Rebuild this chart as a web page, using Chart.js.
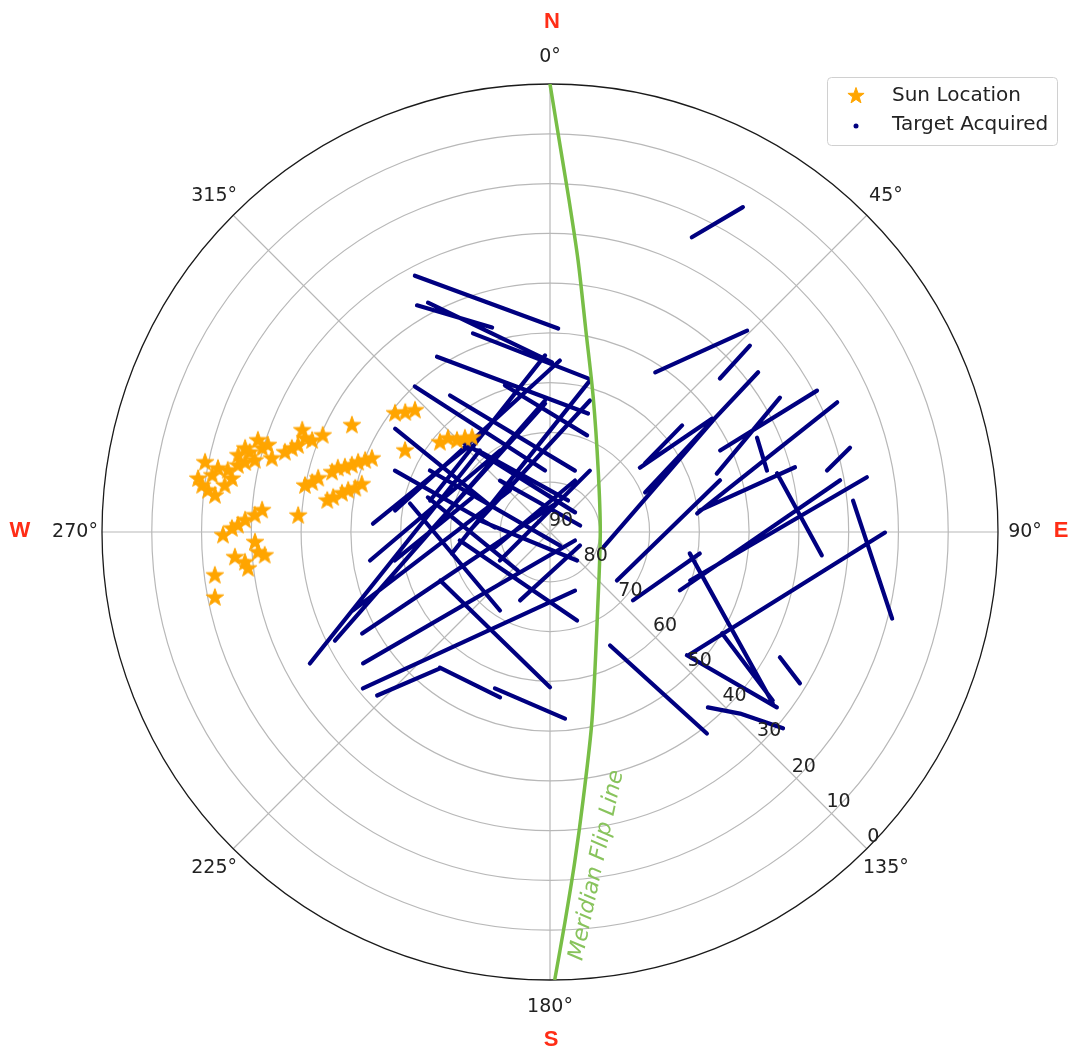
<!DOCTYPE html>
<html>
<head>
<meta charset="utf-8">
<script src="https://cdn.jsdelivr.net/npm/chart.js@4.4.1/dist/chart.umd.min.js"></script>
<style>
  html, body { margin: 0; padding: 0; background: #fff; }
</style>
</head>
<body>
<canvas id="c" width="1073" height="1051"></canvas>
<script>
// azimuth ticks (deg, clockwise from north) and altitude ticks (deg)
const azTicks = [0, 45, 90, 135, 180, 225, 270, 315];
const altTicks = [90, 80, 70, 60, 50, 40, 30, 20, 10, 0];
const compass = ['N', 'E', 'S', 'W'];

// sun positions
const sunAz = [278.6, 281.4, 279.5, 280.8, 278.1, 280.8, 282.0, 283.8, 282.8, 284.8,
  283.6, 286.2, 287.1, 284.8, 276.9, 276.2, 279.5, 287.4, 285.3, 277.6,
  286.7, 287.9, 288.9, 292.3, 290.9, 291.0, 293.0, 298.3,
  280.7, 281.7, 283.0, 285.3, 286.7, 287.5, 288.6, 289.9, 291.1, 292.4,
  278.0, 279.0, 280.5, 281.6, 282.6, 284.2, 273.7,
  269.4, 270.6, 271.2, 272.2, 273.2, 274.3,
  265.4, 264.3, 263.1, 268.0, 266.0, 265.3, 262.6, 258.9,
  307.4, 309.5, 312.0, 299.3, 309.1, 312.5, 314.5, 317.7, 320.5];
const sunAlt = [18.5, 19.3, 21.2, 22.1, 24.0, 24.1, 25.9, 25.5, 27.2, 27.6,
  29.0, 29.8, 30.7, 32.2, 20.8, 22.3, 25.2, 28.5, 26.5, 19.5,
  34.4, 35.5, 36.5, 36.2, 37.3, 38.8, 40.4, 44.8,
  39.9, 41.2, 42.2, 44.6, 45.5, 46.8, 48.0, 49.0, 50.2, 51.3,
  44.8, 45.9, 47.5, 48.6, 49.9, 51.0, 39.3,
  24.3, 26.1, 27.3, 28.7, 30.6, 32.0,
  26.5, 28.4, 28.9, 30.7, 31.2, 32.5, 22.1, 21.4,
  50.8, 52.3, 53.5, 56.6, 61.5, 62.2, 63.8, 64.6, 65.4];

// acquired target tracks, each a list of [az, alt]
const targetTracks = [
  [[332.2, 31.8], [2.3, 49.1]],
  [[329.6, 37.2], [344.2, 47.3]],
  [[332.0, 37.8], [0.7, 55.9]],
  [[338.8, 47.2], [13.9, 58.2]],
  [[327.2, 48.1], [17.8, 65.0]],
  [[317.1, 50.1], [355.4, 77.6]],
  [[323.8, 56.0], [22.1, 76.7]],
  [[303.7, 52.6], [293.8, 76.8]],
  [[342.9, 59.2], [21.0, 69.2]],
  [[315.5, 64.2], [52.0, 83.6]],
  [[297.1, 62.9], [143.5, 86.6]],
  [[315.8, 75.6], [77.8, 83.8]],
  [[279.3, 75.8], [136.5, 82.1]],
  [[264.6, 71.8], [163.0, 71.4]],
  [[281.5, 61.3], [212.5, 71.3]],
  [[246.2, 65.9], [180.0, 58.8]],
  [[219.1, 54.9], [196.8, 55.3]],
  [[199.4, 56.7], [175.4, 52.4]],
  [[291.6, 56.5], [274.7, 78.9]],
  [[285.8, 64.5], [219.7, 79.9]],
  [[318.5, 68.1], [29.7, 82.7]],
  [[241.3, 35.0], [319.3, 68.4]],
  [[243.2, 41.6], [357.8, 63.6]],
  [[248.3, 47.4], [316.1, 78.4]],
  [[241.6, 47.1], [17.6, 83.4]],
  [[234.9, 44.1], [108.8, 84.7]],
  [[230.1, 41.0], [156.9, 77.2]],
  [[226.6, 42.2], [218.9, 54.8]],
  [[272.7, 54.4], [317.2, 66.3]],
  [[261.0, 53.4], [328.5, 70.8]],
  [[277.9, 58.6], [3.3, 55.5]],
  [[284.7, 65.1], [358.4, 54.5]],
  [[271.1, 73.9], [16.9, 62.4]],
  [[240.3, 78.4], [33.0, 75.3]],
  [[203.6, 75.0], [114.2, 83.4]],
  [[266.2, 64.2], [357.8, 64.2]],
  [[257.6, 69.8], [14.8, 58.5]],
  [[254.3, 78.5], [25.9, 78.5]],
  [[259.6, 58.3], [293.9, 72.9]],
  [[25.7, 24.3], [30.7, 14.1]],
  [[33.4, 51.6], [44.4, 33.4]],
  [[47.9, 44.0], [47.0, 35.1]],
  [[106.3, 78.9], [55.6, 50.3]],
  [[67.4, 69.3], [52.5, 37.3]],
  [[54.2, 66.5], [51.1, 55.9]],
  [[70.7, 54.5], [59.7, 36.5]],
  [[64.4, 52.1], [62.1, 29.3]],
  [[82.8, 60.2], [65.7, 26.7]],
  [[109.1, 60.2], [80.2, 25.4]],
  [[131.8, 52.8], [90.1, 22.7]],
  [[84.1, 28.8], [104.2, 19.1]],
  [[75.5, 42.9], [94.9, 35.2]],
  [[98.7, 61.6], [127.6, 33.5]],
  [[138.0, 42.6], [133.7, 37.2], [130.1, 28.8]],
  [[132.0, 53.0], [127.7, 32.4]],
  [[152.1, 64.2], [142.1, 38.7]],
  [[120.5, 49.9], [127.1, 33.9]],
  [[125.9, 73.4], [73.1, 54.3]],
  [[129.5, 68.4], [98.2, 59.6]],
  [[114.2, 61.4], [79.9, 30.8]],
  [[65.5, 44.3], [74.2, 44.7]],
  [[118.6, 37.4], [121.2, 31.3]],
  [[81.8, 59.6], [75.2, 39.1]],
  [[74.3, 27.4], [77.5, 33.0]],
  [[54.4, 67.8], [55.0, 50.3]]
];

// meridian flip line
const flipAz = [0, 1.66, 3.28, 5.89, 10.1, 17.8, 38.1, 90, 146.2, 167.4, 173.0, 175.7, 177.8, 179.4];
const flipAlt = [0, 13.5, 23.2, 35.1, 48.9, 61.6, 74.3, 79.9, 72.7, 51.3, 35.6, 23.6, 11.6, 0];

const NAVY = '#000080';
const ORANGE = '#ffa500';
const GREEN = '#78be46';
const RED = '#ff2d16';

function toXY(az, alt) {
  const z = 90 - alt, t = az * Math.PI / 180;
  return { x: z * Math.sin(t), y: z * Math.cos(t) };
}

function makeStar(size, rOut) {
  const c = document.createElement('canvas');
  c.width = c.height = size;
  const g = c.getContext('2d');
  g.beginPath();
  for (let i = 0; i < 10; i++) {
    const r = i % 2 === 0 ? rOut : rOut * 0.4;
    const a = -Math.PI / 2 + i * Math.PI / 5;
    g.lineTo(size / 2 + r * Math.cos(a), size / 2 + r * Math.sin(a));
  }
  g.closePath();
  g.fillStyle = ORANGE;
  g.fill();
  g.strokeStyle = ORANGE;
  g.lineWidth = 1;
  g.stroke();
  return c;
}
const starImg = makeStar(22, 9.2);
const starLegend = makeStar(20, 8.5);

const sunData = sunAz.map((a, i) => toXY(a, sunAlt[i]));
const trackData = [];
targetTracks.forEach(tr => {
  tr.forEach(p => trackData.push(toXY(p[0], p[1])));
  trackData.push({ x: NaN, y: NaN });
});
const flipData = flipAz.map((a, i) => toXY(a, flipAlt[i]));

const polarFrame = {
  id: 'polarFrame',
  beforeDatasetsDraw(chart) {
    const ctx = chart.ctx, xs = chart.scales.x, ys = chart.scales.y;
    const cx = xs.getPixelForValue(0), cy = ys.getPixelForValue(0);
    const k = (xs.getPixelForValue(90) - cx) / 90;
    ctx.save();
    ctx.strokeStyle = '#b8b8b8';
    ctx.lineWidth = 1.2;
    altTicks.forEach(a => {
      if (a === 90 || a === 0) return;
      ctx.beginPath();
      ctx.arc(cx, cy, (90 - a) * k, 0, Math.PI * 2);
      ctx.stroke();
    });
    azTicks.forEach(a => {
      const t = a * Math.PI / 180;
      ctx.beginPath();
      ctx.moveTo(cx, cy);
      ctx.lineTo(cx + 90 * k * Math.sin(t), cy - 90 * k * Math.cos(t));
      ctx.stroke();
    });
    ctx.strokeStyle = '#1a1a1a';
    ctx.lineWidth = 1.3;
    ctx.beginPath();
    ctx.arc(cx, cy, 90 * k, 0, Math.PI * 2);
    ctx.stroke();
    ctx.restore();
  },
  afterDatasetsDraw(chart) {
    const ctx = chart.ctx, xs = chart.scales.x, ys = chart.scales.y;
    const cx = xs.getPixelForValue(0), cy = ys.getPixelForValue(0);
    const k = (xs.getPixelForValue(90) - cx) / 90;
    const R = 90 * k;
    ctx.save();
    ctx.fillStyle = '#222';
    ctx.font = '19px "DejaVu Sans"';
    ctx.textAlign = 'center';
    ctx.textBaseline = 'middle';
    // altitude labels
    altTicks.forEach(a => {
      const rp = (90 - a) * k;
      ctx.fillText(String(a), cx + rp * 0.697 + 11, cy + rp * 0.705 - 11);
    });
    // azimuth labels
    azTicks.forEach(a => {
      const t = a * Math.PI / 180;
      ctx.fillText(a + '°', cx + (R + 27) * Math.sin(t), cy - (R + 27) * Math.cos(t));
    });
    // compass letters
    ctx.fillStyle = RED;
    ctx.font = 'bold 22px "Liberation Sans"';
    ctx.fillText(compass[0], cx + 2, cy - R - 62);
    ctx.fillText(compass[1], cx + R + 63, cy - 1);
    ctx.fillText(compass[2], cx + 1, cy + R + 60);
    ctx.fillText(compass[3], cx - R - 82, cy - 1);
    // flip line label
    const lp = toXY(172.0, 22.4);
    ctx.translate(xs.getPixelForValue(lp.x), ys.getPixelForValue(lp.y));
    ctx.rotate(-77.8 * Math.PI / 180);
    ctx.fillStyle = '#88c35c';
    ctx.font = 'italic 22px "DejaVu Sans"';
    ctx.fillText('Meridian Flip Line', 0, 0);
    ctx.restore();

    // legend
    ctx.save();
    ctx.beginPath();
    ctx.roundRect(827.5, 77.5, 230, 68, 4);
    ctx.fillStyle = 'rgba(255,255,255,0.85)';
    ctx.fill();
    ctx.strokeStyle = '#d0d0d0';
    ctx.lineWidth = 1;
    ctx.stroke();
    ctx.drawImage(starLegend, 846, 86);
    ctx.fillStyle = NAVY;
    ctx.beginPath();
    ctx.arc(856, 126, 2.5, 0, Math.PI * 2);
    ctx.fill();
    ctx.fillStyle = '#222';
    ctx.font = '20px "DejaVu Sans"';
    ctx.textAlign = 'left';
    ctx.textBaseline = 'middle';
    ctx.fillText(chart.data.datasets[0].label, 892, 96);
    ctx.fillText(chart.data.datasets[2].label, 892, 125);
    ctx.restore();
  }
};

new Chart(document.getElementById('c'), {
  type: 'scatter',
  data: {
    datasets: [
      {
        label: 'Sun Location',
        data: sunData,
        pointStyle: starImg,
        pointRadius: 9,
        showLine: false
      },
      {
        label: 'Meridian Flip Line',
        data: flipData,
        showLine: true,
        borderColor: GREEN,
        borderWidth: 3.5,
        pointRadius: 0,
        tension: 0.3
      },
      {
        label: 'Target Acquired',
        data: trackData,
        showLine: true,
        spanGaps: false,
        borderColor: NAVY,
        borderWidth: 4.2,
        borderCapStyle: 'round',
        borderJoinStyle: 'round',
        pointRadius: 0,
        tension: 0
      }
    ]
  },
  options: {
    responsive: false,
    animation: false,
    events: [],
    layout: { padding: { left: 102, right: 75, top: 84, bottom: 71 } },
    scales: {
      x: { type: 'linear', min: -90, max: 90, display: false },
      y: { type: 'linear', min: -90, max: 90, display: false }
    },
    plugins: {
      legend: { display: false },
      tooltip: { enabled: false }
    }
  },
  plugins: [polarFrame]
});
</script>
</body>
</html>
